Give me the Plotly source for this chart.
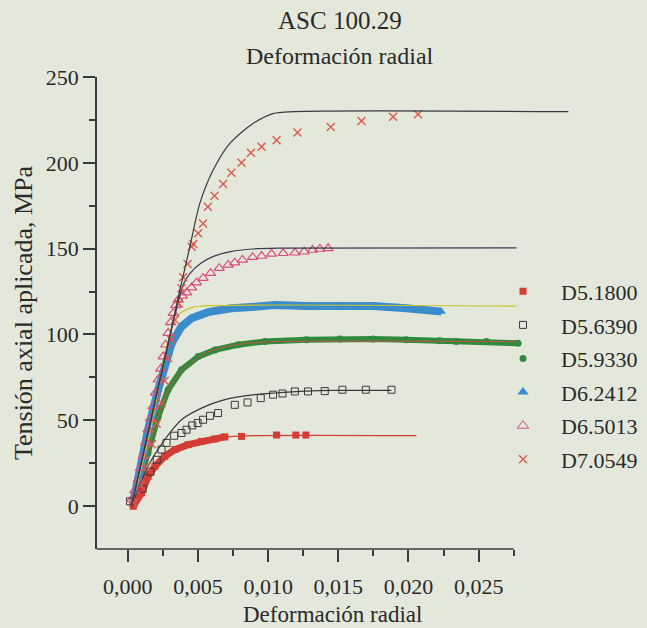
import plotly.graph_objects as go

# --- data (x = radial strain, y = axial stress MPa) ---
# D5.1800 (red filled squares)
d5180_x = [0.00038, 0.00098, 0.00144, 0.00193, 0.00263, 0.00335, 0.0043, 0.00525, 0.00621, 0.00691,
           0.0081, 0.0106, 0.01197, 0.01269]
d5180_y = [-0.1, 7.7, 17.3, 23.2, 29.0, 32.9, 35.8, 37.7, 39.1, 40.3, 40.6, 41.4, 41.4, 41.4]
d5180_fit_x = [0.00026, 0.00094, 0.00172, 0.00262, 0.00352, 0.00453, 0.00565, 0.00689, 0.00824, 0.02057]
d5180_fit_y = [0, 8, 20, 28.5, 33.5, 36.5, 38.8, 40.2, 40.9, 41.0]

# D5.6390 (open squares)
d5639_x = [0.00015, 0.00105, 0.00161, 0.00206, 0.0024, 0.00276, 0.0033, 0.00382, 0.00418, 0.00459, 0.00497,
           0.00536, 0.00585, 0.00643, 0.00762, 0.00853, 0.00947, 0.01035, 0.01102, 0.0119, 0.01284,
           0.01403, 0.01529, 0.01696, 0.01879]
d5639_y = [2.8, 10, 20, 27, 32.9, 36.8, 41.0, 42.6, 44.5, 47.0, 48.4, 50.3, 52.6, 54.2, 59.0, 60.4, 62.9,
           64.9, 65.6, 66.8, 66.8, 67.0, 67.8, 67.8, 67.8]
d5639_fit_x = [0.00026, 0.00144, 0.00263, 0.00382, 0.00525, 0.00691, 0.00905, 0.01047, 0.01273, 0.01464, 0.01879]
d5639_fit_y = [0, 23.2, 38.7, 50.3, 57.1, 62.0, 64.9, 65.9, 67.0, 67.4, 67.4]

# D5.9330 (green dots)
d5933_x = [0.00038, 0.00082, 0.00144, 0.00216, 0.00287, 0.00382, 0.00501, 0.00621, 0.00786, 0.00977,
           0.01273, 0.0151, 0.01748, 0.01985, 0.02223, 0.02341, 0.02556, 0.02781]
d5933_y = [0.9, 14, 30.9, 52.2, 67.8, 79.4, 87.1, 91.0, 94.0, 95.9, 96.9, 97.4, 97.4, 96.9, 96.3, 95.9,
           95.9, 94.9]
d5933_fit_x = [0.00026, 0.00116, 0.00195, 0.00285, 0.00397, 0.00565, 0.00734, 0.00959, 0.02778]
d5933_fit_y = [0, 24, 47, 67, 80, 89.5, 93.5, 95.5, 95.8]

# D6.2412 (blue triangles)
d6241_x = [0.00038, 0.00082, 0.00144, 0.00216, 0.00263, 0.00312, 0.00382, 0.00454, 0.00572, 0.00738,
           0.00905, 0.01047, 0.01273, 0.0151, 0.01748, 0.01985, 0.02235]
d6241_y = [1.9, 22, 44.5, 67.8, 83.3, 94.9, 104.6, 109.5, 113.0, 115.3, 116.2, 117.2, 116.6, 116.6, 116.6,
           115.3, 113.3]
d6241_fit_x = [0.00026, 0.00172, 0.00262, 0.00318, 0.00375, 0.00464, 0.00599, 0.0277]
d6241_fit_y = [0, 48, 88, 105, 112.5, 115.8, 116.8, 116.5]

# D6.5013 (open pink triangles)
d6501_x = [0.00026, 0.00049, 0.00073, 0.00091, 0.00109, 0.00127, 0.00144, 0.00161, 0.0018, 0.00197,
           0.00216, 0.00234, 0.00252, 0.00269, 0.00287, 0.00305, 0.00323, 0.00341, 0.00359, 0.00388,
           0.00418, 0.00454, 0.00489, 0.00536, 0.00589, 0.00651, 0.00715, 0.00762, 0.00817, 0.00889,
           0.00953, 0.01024, 0.01107, 0.0119, 0.01256, 0.01316, 0.01368, 0.01427]
d6501_y = [3.8, 9, 15.4, 22, 29.0, 37, 44.5, 51, 58.1, 66, 73.6, 80, 87.1, 94, 100.8, 107, 112.4, 117,
           120.1, 122.5, 124.4, 127.3, 130.2, 132.8, 135.7, 138.6, 140.5, 141.8, 143.4, 145.0, 145.7,
           146.9, 147.3, 147.6, 148.2, 149.2, 149.8, 150.2]
d6501_fit_x = [0.00026, 0.00172, 0.00285, 0.00363, 0.00394, 0.00442, 0.0052, 0.0061, 0.00734, 0.00891, 0.01071, 0.0277]
d6501_fit_y = [0, 53, 94, 120, 129, 135.5, 141.5, 145.5, 148.3, 149.8, 150.3, 150.4]

# D7.0549 (red crosses)
d7055_x = [0.00038, 0.00094, 0.00133, 0.00172, 0.00206, 0.0024, 0.00262, 0.00287, 0.00307, 0.00335, 0.00363,
           0.00382, 0.00394, 0.00425, 0.00454, 0.00466, 0.00501, 0.00536, 0.0057, 0.00618, 0.00679,
           0.00738, 0.0081, 0.00877, 0.00953, 0.0106, 0.01209, 0.01446, 0.01665, 0.0189, 0.02068]
d7055_y = [2, 12, 23, 36, 48, 60, 73, 86.2, 97, 108.5, 118, 126.9, 133.3, 141.1, 151.1, 152.7, 158.9,
           164.7, 174.4, 180.8, 187.6, 194.2, 200.0, 205.8, 209.3, 213.2, 217.7, 220.9, 224.4, 226.8, 228.3]
d7055_fit_x = [0.00026, 0.00172, 0.00285, 0.00371, 0.00442, 0.00513, 0.00608, 0.00727, 0.00892, 0.01035, 0.01183, 0.0314]
d7055_fit_y = [0, 53, 94, 125.9, 151.1, 176.4, 195.8, 211.3, 222.9, 228.7, 229.8, 229.8]

x_ticks = [0, 0.005, 0.010, 0.015, 0.020, 0.025]
x_labels = ["0,000", "0,005", "0,010", "0,015", "0,020", "0,025"]
x_minor = [0.0025, 0.0075, 0.0125, 0.0175, 0.0225, 0.0275]
y_ticks = [0, 50, 100, 150, 200, 250]
y_minor = [25, 75, 125, 175, 225]

RED = "#d43c34"
GREEN = "#2f8a3c"
BLUE = "#3a8ccc"
PINK = "#d8507a"
XRED = "#da5a50"
DARK = "#3a3a3a"
FONT = "Liberation Serif"
BG = "#e4e8db"

fig = go.Figure()


def fit(x, y, color, width=1.2):
    fig.add_trace(go.Scatter(x=x, y=y, mode="lines", showlegend=False, hoverinfo="skip",
                             line=dict(color=color, width=width, shape="spline", smoothing=0.8)))


# dense bands (thick line under the markers)
fig.add_trace(go.Scatter(x=d5933_x, y=d5933_y, mode="lines+markers", showlegend=False,
                         line=dict(color=GREEN, width=6), marker=dict(symbol="circle", size=7, color=GREEN)))
fit(d5933_fit_x, d5933_fit_y, "#c8504a", 1)

fig.add_trace(go.Scatter(x=d6241_x, y=d6241_y, mode="lines+markers", showlegend=False,
                         line=dict(color=BLUE, width=8), marker=dict(symbol="triangle-up", size=8, color=BLUE)))
fit(d6241_fit_x, d6241_fit_y, "#c9c427", 1.2)

fig.add_trace(go.Scatter(x=d5180_x[:10], y=d5180_y[:10], mode="lines", showlegend=False,
                         line=dict(color=RED, width=7)))
fig.add_trace(go.Scatter(x=d5180_x, y=d5180_y, mode="markers", showlegend=False,
                         marker=dict(symbol="square", size=7, color=RED)))
fit(d5180_fit_x, d5180_fit_y, RED, 1.2)

fig.add_trace(go.Scatter(x=d5639_x, y=d5639_y, mode="markers", showlegend=False,
                         marker=dict(symbol="square-open", size=7, color=DARK, line=dict(width=1))))
fit(d5639_fit_x, d5639_fit_y, DARK)

fig.add_trace(go.Scatter(x=d6501_x, y=d6501_y, mode="markers", showlegend=False,
                         marker=dict(symbol="triangle-up-open", size=9, color=PINK, line=dict(width=1.2))))
fit(d6501_fit_x, d6501_fit_y, "#3a3a52")

fig.add_trace(go.Scatter(x=d7055_x, y=d7055_y, mode="markers", showlegend=False,
                         marker=dict(symbol="x-thin", size=8, color=XRED, line=dict(width=1.4, color=XRED))))
fit(d7055_fit_x, d7055_fit_y, DARK)

# legend entries (marker only)
legend_items = [
    ("D5.1800", dict(symbol="square", size=7, color=RED)),
    ("D5.6390", dict(symbol="square-open", size=7, color=DARK)),
    ("D5.9330", dict(symbol="circle", size=7, color=GREEN)),
    ("D6.2412", dict(symbol="triangle-up", size=10, color=BLUE)),
    ("D6.5013", dict(symbol="triangle-up-open", size=10, color=PINK)),
    ("D7.0549", dict(symbol="x-thin", size=8, color=XRED, line=dict(width=1.4, color=XRED))),
]
for name, mk in legend_items:
    fig.add_trace(go.Scatter(x=[None], y=[None], mode="markers", name=name, marker=mk, legendgroup=name))

# the plot area runs to the right edge so the legend sits inside it and pushes no margin
fig.update_layout(
    width=647, height=628,
    paper_bgcolor=BG, plot_bgcolor=BG,
    margin=dict(l=97, r=0, t=77, b=79),
    font=dict(family=FONT, size=22, color="#2a2a2a"),
    showlegend=True,
    legend=dict(x=0.7055, y=0.59, xanchor="left", yanchor="top", bgcolor="rgba(0,0,0,0)",
                font=dict(family=FONT, size=22), itemwidth=66, tracegroupgap=2),
    xaxis=dict(range=[-0.0022, 0.0370], showgrid=False, zeroline=False, automargin=False,
               showline=False,
               ticks="outside", ticklen=12, tickwidth=1.6, tickcolor=DARK, ticklabelstandoff=6,
               tickvals=x_ticks, ticktext=x_labels,
               minor=dict(tickvals=x_minor, ticks="outside", ticklen=6, tickwidth=1.6,
                          tickcolor=DARK, showgrid=False)),
    yaxis=dict(range=[-25, 250], showgrid=False, zeroline=False, automargin=False,
               showline=True, linecolor=DARK, linewidth=1.6,
               ticks="outside", ticklen=12, tickwidth=1.6, tickcolor=DARK,
               tickvals=y_ticks,
               minor=dict(tickvals=y_minor, ticks="outside", ticklen=6, tickwidth=1.6,
                          tickcolor=DARK, showgrid=False),
               title=dict(text="Tensión axial aplicada, MPa", standoff=6, font=dict(size=26))),
)
# bottom axis line stops at the last minor tick while the curves run on past it
fig.add_shape(type="line", xref="x", yref="paper", x0=-0.0022, x1=0.0275, y0=0, y1=0,
              line=dict(color=DARK, width=1.6))

# x-axis title and the two-line chart title, centred on the drawn axis
fig.add_annotation(text="Deformación radial", xref="paper", yref="paper", x=0.429, y=0, yshift=-65,
                   showarrow=False, yanchor="middle", font=dict(family=FONT, size=23))
fig.add_annotation(text="ASC 100.29", xref="paper", yref="paper", x=0.442, y=1, yshift=57,
                   showarrow=False, yanchor="middle", font=dict(family=FONT, size=25))
fig.add_annotation(text="Deformación radial", xref="paper", yref="paper", x=0.442, y=1, yshift=21,
                   showarrow=False, yanchor="middle", font=dict(family=FONT, size=24))

# drop the default page margin so the figure fills the window
fig.write_html("out.html", config={"displayModeBar": False},
               post_script=f"document.body.style.margin='0';"
                           f"document.body.style.background='{BG}';")
